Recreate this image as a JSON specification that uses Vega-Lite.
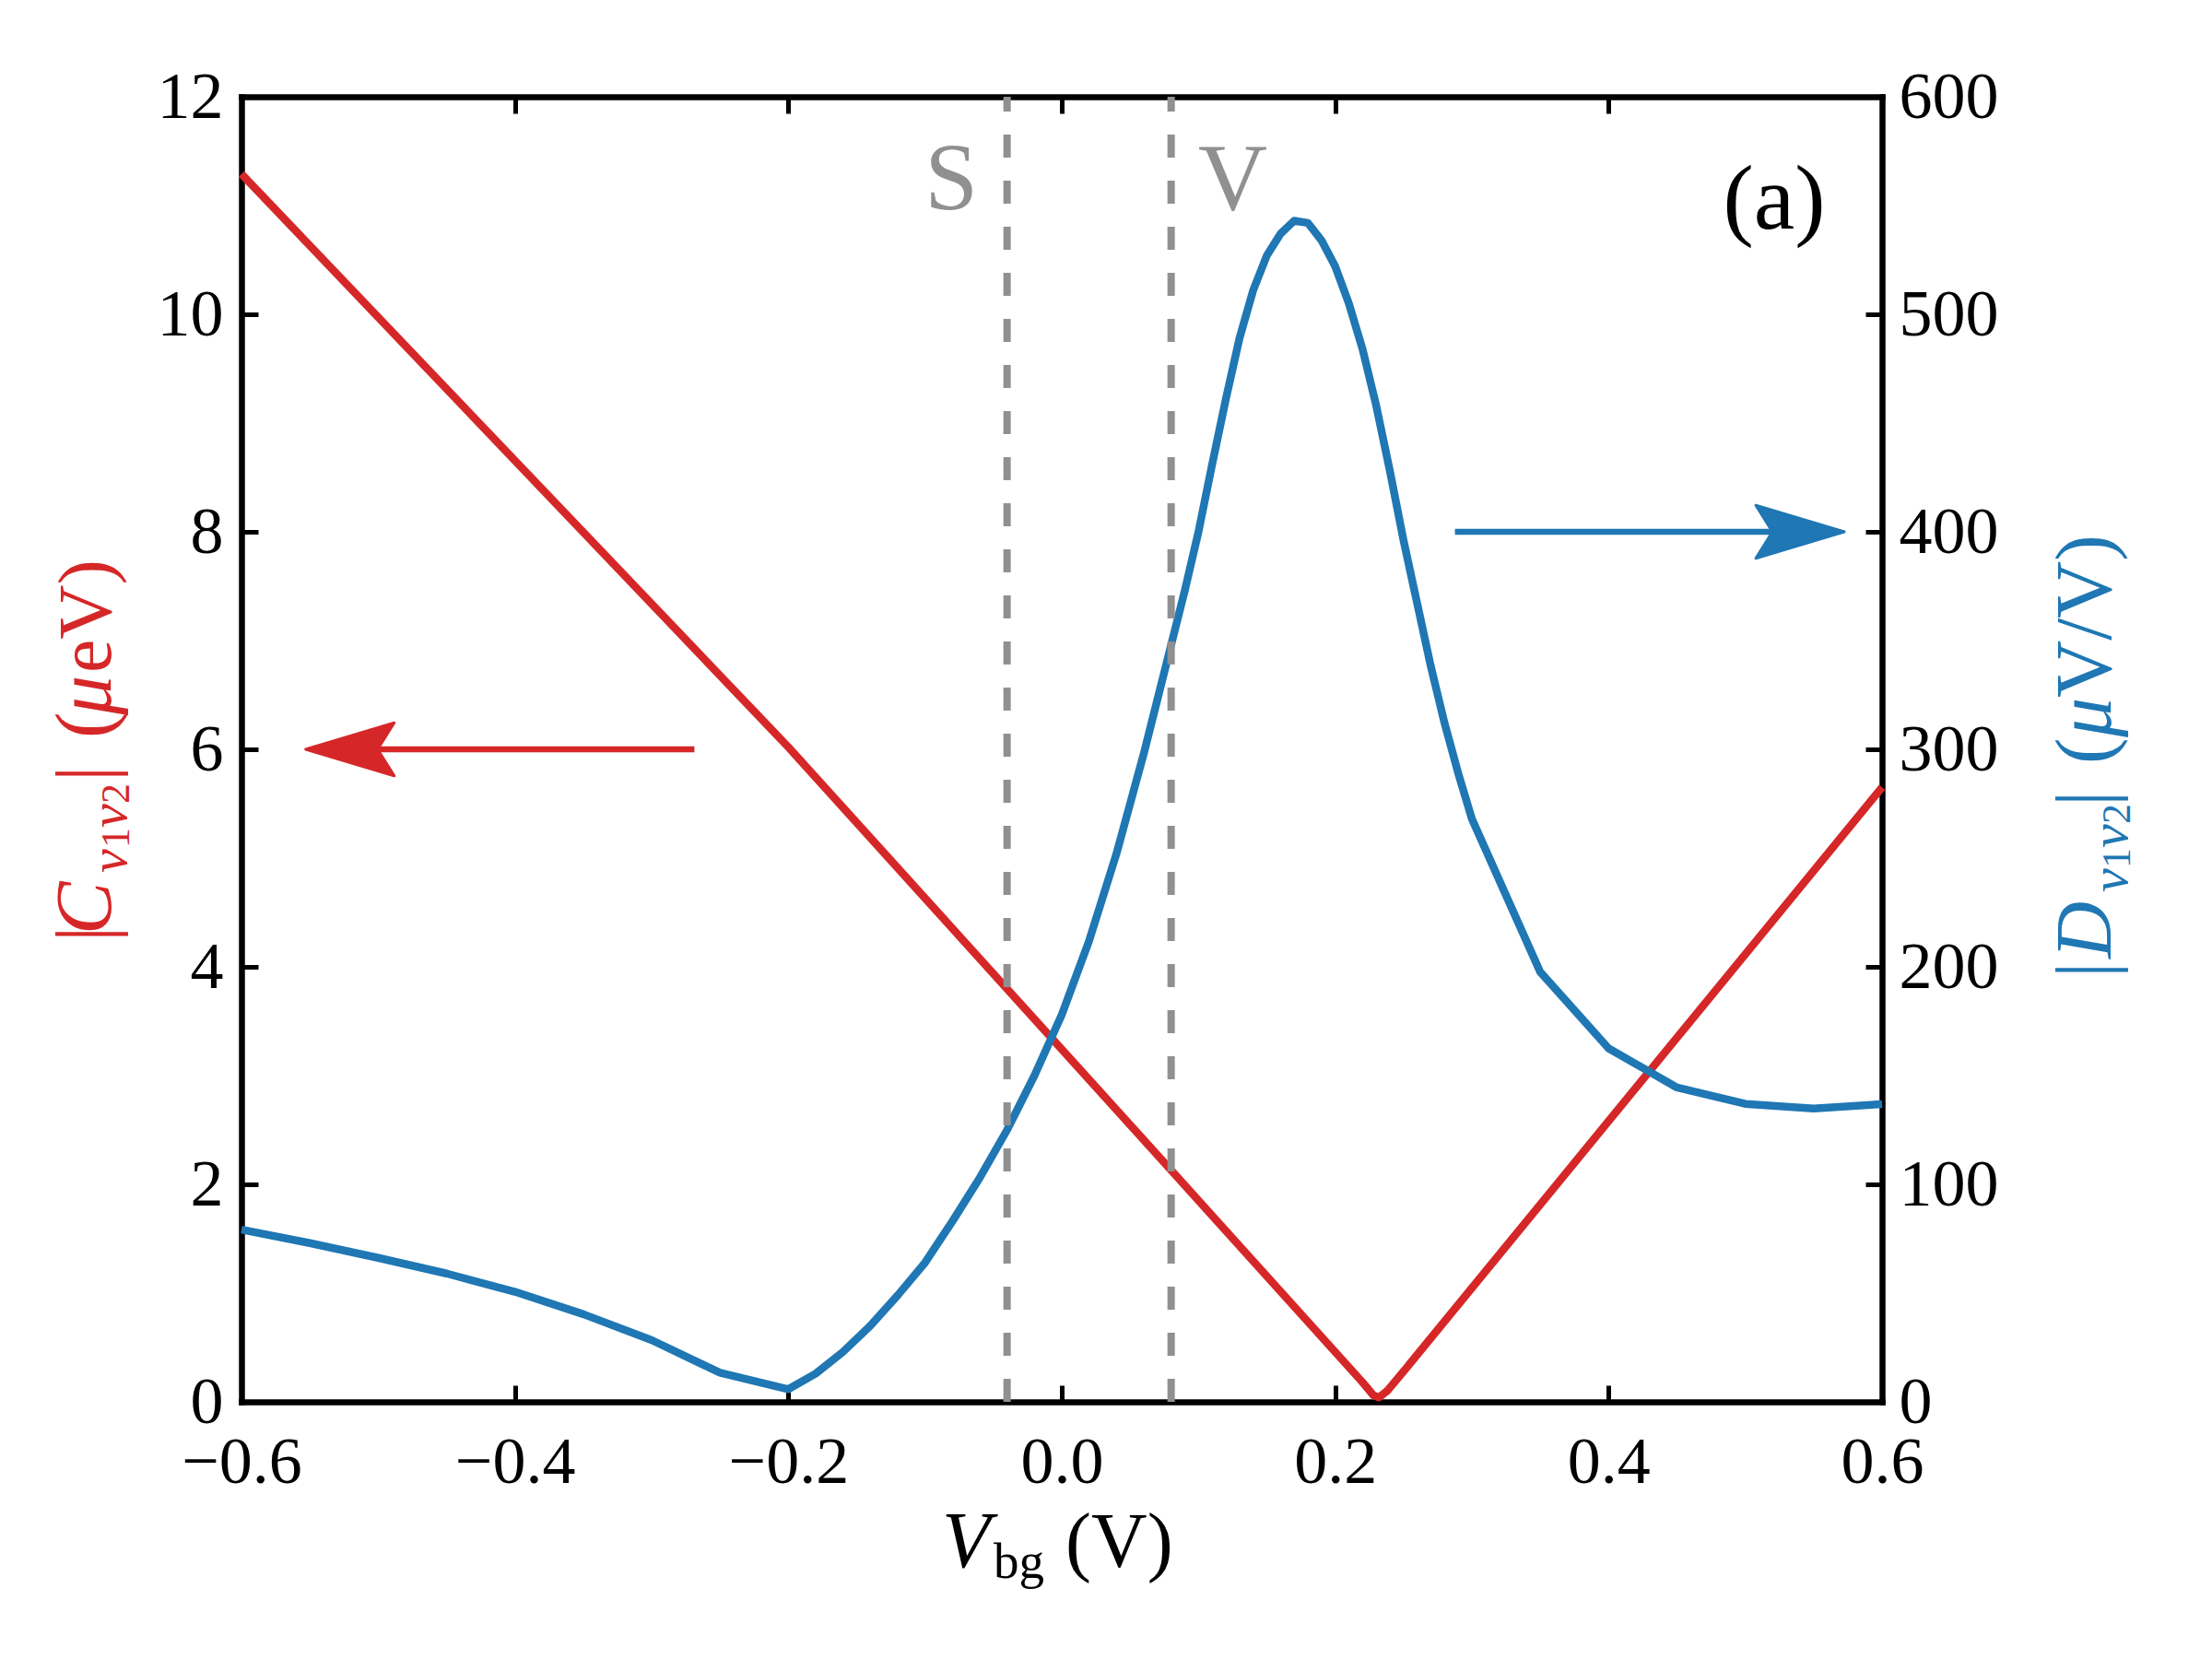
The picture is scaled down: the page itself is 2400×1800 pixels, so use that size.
{
  "$schema": "https://vega.github.io/schema/vega-lite/v6.json",
  "width": 1780,
  "height": 1416,
  "autosize": {"type": "none"},
  "padding": {"left": 262, "top": 105, "right": 358, "bottom": 279},
  "background": "white",
  "config": {
    "view": {"stroke": null},
    "axis": {
      "grid": false,
      "domainColor": "black",
      "domainWidth": 6.5,
      "domainCap": "square",
      "tickColor": "black",
      "tickWidth": 5,
      "tickSize": -18,
      "labelFont": "Liberation Serif",
      "labelFontSize": 72,
      "labelColor": "black",
      "labelFlush": false,
      "labelOverlap": false,
      "labelBound": false
    }
  },
  "datasets": {
    "red": [
      {"v": -0.6, "c": 11.29},
      {"v": -0.2, "c": 6.02},
      {"v": 0.08, "c": 2.13},
      {"v": 0.22, "c": 0.18},
      {"v": 0.228, "c": 0.06},
      {"v": 0.232, "c": 0.04},
      {"v": 0.238, "c": 0.1},
      {"v": 0.25, "c": 0.28},
      {"v": 0.6, "c": 5.65}
    ],
    "blue": [
      {"v": -0.6, "d": 79.2},
      {"v": -0.55, "d": 73.0},
      {"v": -0.5, "d": 66.2},
      {"v": -0.45, "d": 59.0},
      {"v": -0.4, "d": 50.6},
      {"v": -0.35, "d": 40.3},
      {"v": -0.3, "d": 28.4},
      {"v": -0.25, "d": 13.4},
      {"v": -0.2, "d": 5.8},
      {"v": -0.18, "d": 13.0},
      {"v": -0.16, "d": 23.0},
      {"v": -0.14, "d": 35.0},
      {"v": -0.12, "d": 49.0},
      {"v": -0.1, "d": 64.0},
      {"v": -0.08, "d": 83.0},
      {"v": -0.06, "d": 103.0},
      {"v": -0.04, "d": 125.0},
      {"v": -0.02, "d": 150.0},
      {"v": 0.0, "d": 178.0},
      {"v": 0.02, "d": 212.0},
      {"v": 0.04, "d": 252.0},
      {"v": 0.06, "d": 298.0},
      {"v": 0.08, "d": 348.0},
      {"v": 0.09, "d": 373.0},
      {"v": 0.1, "d": 400.0},
      {"v": 0.11, "d": 431.0},
      {"v": 0.12, "d": 461.0},
      {"v": 0.13, "d": 489.0},
      {"v": 0.14, "d": 511.0},
      {"v": 0.15, "d": 527.0},
      {"v": 0.16, "d": 537.0},
      {"v": 0.17, "d": 543.0},
      {"v": 0.18, "d": 542.0},
      {"v": 0.19, "d": 534.0},
      {"v": 0.2, "d": 522.0},
      {"v": 0.21, "d": 505.0},
      {"v": 0.22, "d": 484.0},
      {"v": 0.23, "d": 458.0},
      {"v": 0.24, "d": 428.0},
      {"v": 0.25, "d": 396.0},
      {"v": 0.26, "d": 367.0},
      {"v": 0.27, "d": 338.0},
      {"v": 0.28, "d": 312.0},
      {"v": 0.29, "d": 289.0},
      {"v": 0.3, "d": 268.0},
      {"v": 0.35, "d": 197.6},
      {"v": 0.4, "d": 162.5},
      {"v": 0.45, "d": 144.5},
      {"v": 0.5, "d": 137.0},
      {"v": 0.55, "d": 134.9},
      {"v": 0.6, "d": 136.9}
    ]
  },
  "layer": [
    {
      "data": {"name": "red"},
      "mark": {"type": "line", "color": "#d62728", "strokeWidth": 8.5, "strokeJoin": "round"},
      "encoding": {
        "x": {"field": "v", "type": "quantitative", "scale": {"domain": [-0.6, 0.6], "nice": false, "zero": false},
              "axis": {"orient": "bottom", "values": [-0.6, -0.4, -0.2, 0, 0.2, 0.4, 0.6], "format": ".1f", "labelPadding": 48, "title": null}},
        "y": {"field": "c", "type": "quantitative", "scale": {"domain": [0, 12], "nice": false, "zero": false},
              "axis": {"orient": "left", "values": [0, 2, 4, 6, 8, 10, 12], "format": "d", "labelPadding": 38, "title": null}}
      }
    },
    {
      "data": {"name": "blue"},
      "mark": {"type": "line", "color": "#1f77b4", "strokeWidth": 8.5, "strokeJoin": "round"},
      "encoding": {
        "x": {"field": "v", "type": "quantitative", "scale": {"domain": [-0.6, 0.6], "nice": false, "zero": false},
              "axis": {"orient": "top", "values": [-0.6, -0.4, -0.2, 0, 0.2, 0.4, 0.6], "labels": false, "title": null}},
        "y": {"field": "d", "type": "quantitative", "scale": {"domain": [0, 600], "nice": false, "zero": false},
              "axis": {"orient": "right", "values": [0, 100, 200, 300, 400, 500, 600], "format": "d", "labelPadding": 36, "title": null}}
      }
    },
    {
      "data": {"values": [{"s": -0.04}, {"s": 0.08}]},
      "mark": {"type": "rule", "color": "#909090", "strokeWidth": 8, "strokeDash": [25, 25]},
      "encoding": {
        "x": {"field": "s", "type": "quantitative", "scale": {"domain": [-0.6, 0.6], "nice": false, "zero": false}, "axis": null},
        "y": {"datum": 0, "type": "quantitative", "scale": {"domain": [0, 600], "nice": false, "zero": false}, "axis": null},
        "y2": {"datum": 600}
      }
    },
    {
      "data": {"values": [{}]},
      "mark": {"type": "rule", "color": "#d62728", "strokeWidth": 6.7},
      "encoding": {
        "x": {"datum": -0.2687, "type": "quantitative", "scale": {"domain": [-0.6, 0.6], "nice": false, "zero": false}, "axis": null},
        "x2": {"datum": -0.53},
        "y": {"datum": 6, "type": "quantitative", "scale": {"domain": [0, 12], "nice": false, "zero": false}, "axis": null}
      }
    },
    {
      "data": {"values": [{}]},
      "mark": {"type": "point", "shape": "M0,0L2,-0.6L1.625,0L2,0.6Z", "size": 9216, "filled": true, "color": "#d62728", "stroke": "#d62728", "strokeWidth": 3, "strokeJoin": "round", "opacity": 1},
      "encoding": {
        "x": {"datum": -0.553, "type": "quantitative", "scale": {"domain": [-0.6, 0.6], "nice": false, "zero": false}, "axis": null},
        "y": {"datum": 6, "type": "quantitative", "scale": {"domain": [0, 12], "nice": false, "zero": false}, "axis": null}
      }
    },
    {
      "data": {"values": [{}]},
      "mark": {"type": "rule", "color": "#1f77b4", "strokeWidth": 6.7},
      "encoding": {
        "x": {"datum": 0.2876, "type": "quantitative", "scale": {"domain": [-0.6, 0.6], "nice": false, "zero": false}, "axis": null},
        "x2": {"datum": 0.55},
        "y": {"datum": 400, "type": "quantitative", "scale": {"domain": [0, 600], "nice": false, "zero": false}, "axis": null}
      }
    },
    {
      "data": {"values": [{}]},
      "mark": {"type": "point", "shape": "M0,0L-2,-0.6L-1.625,0L-2,0.6Z", "size": 9216, "filled": true, "color": "#1f77b4", "stroke": "#1f77b4", "strokeWidth": 3, "strokeJoin": "round", "opacity": 1},
      "encoding": {
        "x": {"datum": 0.5724, "type": "quantitative", "scale": {"domain": [-0.6, 0.6], "nice": false, "zero": false}, "axis": null},
        "y": {"datum": 400, "type": "quantitative", "scale": {"domain": [0, 600], "nice": false, "zero": false}, "axis": null}
      }
    },
    {
      "data": {"values": [{}]},
      "mark": {"type": "text", "text": "S", "font": "Liberation Serif", "fontSize": 104, "color": "#909090", "align": "right", "baseline": "alphabetic"},
      "encoding": {
        "x": {"datum": -0.0613, "type": "quantitative", "scale": {"domain": [-0.6, 0.6], "nice": false, "zero": false}, "axis": null},
        "y": {"datum": 10.966, "type": "quantitative", "scale": {"domain": [0, 12], "nice": false, "zero": false}, "axis": null}
      }
    },
    {
      "data": {"values": [{}]},
      "mark": {"type": "text", "text": "V", "font": "Liberation Serif", "fontSize": 104, "color": "#909090", "align": "left", "baseline": "alphabetic"},
      "encoding": {
        "x": {"datum": 0.0998, "type": "quantitative", "scale": {"domain": [-0.6, 0.6], "nice": false, "zero": false}, "axis": null},
        "y": {"datum": 10.966, "type": "quantitative", "scale": {"domain": [0, 12], "nice": false, "zero": false}, "axis": null}
      }
    },
    {
      "data": {"values": [{}]},
      "mark": {"type": "text", "text": "(a)", "font": "Liberation Serif", "fontSize": 100, "color": "black", "align": "center", "baseline": "alphabetic"},
      "encoding": {
        "x": {"datum": 0.5211, "type": "quantitative", "scale": {"domain": [-0.6, 0.6], "nice": false, "zero": false}, "axis": null},
        "y": {"datum": 10.788, "type": "quantitative", "scale": {"domain": [0, 12], "nice": false, "zero": false}, "axis": null}
      }
    },
    {
      "data": {"values": [{}]},
      "mark": {"type": "text", "text": "V", "font": "Liberation Serif", "fontStyle": "italic", "fontSize": 86, "color": "black", "align": "left", "baseline": "alphabetic"},
      "encoding": {
        "x": {"datum": -0.0876, "type": "quantitative", "scale": {"domain": [-0.6, 0.6], "nice": false, "zero": false}, "axis": null},
        "y": {"datum": -1.517, "type": "quantitative", "scale": {"domain": [0, 12], "nice": false, "zero": false}, "axis": null}
      }
    },
    {
      "data": {"values": [{}]},
      "mark": {"type": "text", "text": "bg", "font": "Liberation Serif", "fontSize": 55, "color": "black", "align": "left", "baseline": "alphabetic"},
      "encoding": {
        "x": {"datum": -0.0499, "type": "quantitative", "scale": {"domain": [-0.6, 0.6], "nice": false, "zero": false}, "axis": null},
        "y": {"datum": -1.619, "type": "quantitative", "scale": {"domain": [0, 12], "nice": false, "zero": false}, "axis": null}
      }
    },
    {
      "data": {"values": [{}]},
      "mark": {"type": "text", "text": "(V)", "font": "Liberation Serif", "fontSize": 84, "color": "black", "align": "left", "baseline": "alphabetic"},
      "encoding": {
        "x": {"datum": 0.0027, "type": "quantitative", "scale": {"domain": [-0.6, 0.6], "nice": false, "zero": false}, "axis": null},
        "y": {"datum": -1.517, "type": "quantitative", "scale": {"domain": [0, 12], "nice": false, "zero": false}, "axis": null}
      }
    },
    {
      "data": {"values": [{}]},
      "mark": {"type": "text", "text": "|", "font": "Liberation Serif", "fontSize": 86, "color": "#d62728", "align": "left", "baseline": "alphabetic", "angle": 270},
      "encoding": {
        "x": {"datum": -0.6957, "type": "quantitative", "scale": {"domain": [-0.6, 0.6], "nice": false, "zero": false}, "axis": null},
        "y": {"datum": 4.229, "type": "quantitative", "scale": {"domain": [0, 12], "nice": false, "zero": false}, "axis": null}
      }
    },
    {
      "data": {"values": [{}]},
      "mark": {"type": "text", "text": "C", "font": "Liberation Serif", "fontStyle": "italic", "fontSize": 86, "color": "#d62728", "align": "left", "baseline": "alphabetic", "angle": 270},
      "encoding": {
        "x": {"datum": -0.6957, "type": "quantitative", "scale": {"domain": [-0.6, 0.6], "nice": false, "zero": false}, "axis": null},
        "y": {"datum": 4.297, "type": "quantitative", "scale": {"domain": [0, 12], "nice": false, "zero": false}, "axis": null}
      }
    },
    {
      "data": {"values": [{}]},
      "mark": {"type": "text", "text": "v", "font": "Liberation Serif", "fontStyle": "italic", "fontSize": 58, "color": "#d62728", "align": "left", "baseline": "alphabetic", "angle": 270},
      "encoding": {
        "x": {"datum": -0.6843, "type": "quantitative", "scale": {"domain": [-0.6, 0.6], "nice": false, "zero": false}, "axis": null},
        "y": {"datum": 4.864, "type": "quantitative", "scale": {"domain": [0, 12], "nice": false, "zero": false}, "axis": null}
      }
    },
    {
      "data": {"values": [{}]},
      "mark": {"type": "text", "text": "1", "font": "Liberation Serif", "fontSize": 44, "color": "#d62728", "align": "left", "baseline": "alphabetic", "angle": 270},
      "encoding": {
        "x": {"datum": -0.6822, "type": "quantitative", "scale": {"domain": [-0.6, 0.6], "nice": false, "zero": false}, "axis": null},
        "y": {"datum": 5.093, "type": "quantitative", "scale": {"domain": [0, 12], "nice": false, "zero": false}, "axis": null}
      }
    },
    {
      "data": {"values": [{}]},
      "mark": {"type": "text", "text": "v", "font": "Liberation Serif", "fontStyle": "italic", "fontSize": 58, "color": "#d62728", "align": "left", "baseline": "alphabetic", "angle": 270},
      "encoding": {
        "x": {"datum": -0.6843, "type": "quantitative", "scale": {"domain": [-0.6, 0.6], "nice": false, "zero": false}, "axis": null},
        "y": {"datum": 5.28, "type": "quantitative", "scale": {"domain": [0, 12], "nice": false, "zero": false}, "axis": null}
      }
    },
    {
      "data": {"values": [{}]},
      "mark": {"type": "text", "text": "2", "font": "Liberation Serif", "fontSize": 44, "color": "#d62728", "align": "left", "baseline": "alphabetic", "angle": 270},
      "encoding": {
        "x": {"datum": -0.6822, "type": "quantitative", "scale": {"domain": [-0.6, 0.6], "nice": false, "zero": false}, "axis": null},
        "y": {"datum": 5.5, "type": "quantitative", "scale": {"domain": [0, 12], "nice": false, "zero": false}, "axis": null}
      }
    },
    {
      "data": {"values": [{}]},
      "mark": {"type": "text", "text": "|", "font": "Liberation Serif", "fontSize": 86, "color": "#d62728", "align": "left", "baseline": "alphabetic", "angle": 270},
      "encoding": {
        "x": {"datum": -0.6957, "type": "quantitative", "scale": {"domain": [-0.6, 0.6], "nice": false, "zero": false}, "axis": null},
        "y": {"datum": 5.703, "type": "quantitative", "scale": {"domain": [0, 12], "nice": false, "zero": false}, "axis": null}
      }
    },
    {
      "data": {"values": [{}]},
      "mark": {"type": "text", "text": "(", "font": "Liberation Serif", "fontSize": 86, "color": "#d62728", "align": "left", "baseline": "alphabetic", "angle": 270},
      "encoding": {
        "x": {"datum": -0.6957, "type": "quantitative", "scale": {"domain": [-0.6, 0.6], "nice": false, "zero": false}, "axis": null},
        "y": {"datum": 6.102, "type": "quantitative", "scale": {"domain": [0, 12], "nice": false, "zero": false}, "axis": null}
      }
    },
    {
      "data": {"values": [{}]},
      "mark": {"type": "text", "text": "μ", "font": "Liberation Serif", "fontStyle": "italic", "fontSize": 86, "color": "#d62728", "align": "left", "baseline": "alphabetic", "angle": 270},
      "encoding": {
        "x": {"datum": -0.6957, "type": "quantitative", "scale": {"domain": [-0.6, 0.6], "nice": false, "zero": false}, "axis": null},
        "y": {"datum": 6.314, "type": "quantitative", "scale": {"domain": [0, 12], "nice": false, "zero": false}, "axis": null}
      }
    },
    {
      "data": {"values": [{}]},
      "mark": {"type": "text", "text": "eV)", "font": "Liberation Serif", "fontSize": 82, "color": "#d62728", "align": "left", "baseline": "alphabetic", "angle": 270},
      "encoding": {
        "x": {"datum": -0.6957, "type": "quantitative", "scale": {"domain": [-0.6, 0.6], "nice": false, "zero": false}, "axis": null},
        "y": {"datum": 6.703, "type": "quantitative", "scale": {"domain": [0, 12], "nice": false, "zero": false}, "axis": null}
      }
    },
    {
      "data": {"values": [{}]},
      "mark": {"type": "text", "text": "|", "font": "Liberation Serif", "fontSize": 86, "color": "#1f77b4", "align": "left", "baseline": "alphabetic", "angle": 270},
      "encoding": {
        "x": {"datum": 0.7672, "type": "quantitative", "scale": {"domain": [-0.6, 0.6], "nice": false, "zero": false}, "axis": null},
        "y": {"datum": 3.898, "type": "quantitative", "scale": {"domain": [0, 12], "nice": false, "zero": false}, "axis": null}
      }
    },
    {
      "data": {"values": [{}]},
      "mark": {"type": "text", "text": "D", "font": "Liberation Serif", "fontStyle": "italic", "fontSize": 86, "color": "#1f77b4", "align": "left", "baseline": "alphabetic", "angle": 270},
      "encoding": {
        "x": {"datum": 0.7672, "type": "quantitative", "scale": {"domain": [-0.6, 0.6], "nice": false, "zero": false}, "axis": null},
        "y": {"datum": 4.076, "type": "quantitative", "scale": {"domain": [0, 12], "nice": false, "zero": false}, "axis": null}
      }
    },
    {
      "data": {"values": [{}]},
      "mark": {"type": "text", "text": "v", "font": "Liberation Serif", "fontStyle": "italic", "fontSize": 58, "color": "#1f77b4", "align": "left", "baseline": "alphabetic", "angle": 270},
      "encoding": {
        "x": {"datum": 0.7793, "type": "quantitative", "scale": {"domain": [-0.6, 0.6], "nice": false, "zero": false}, "axis": null},
        "y": {"datum": 4.686, "type": "quantitative", "scale": {"domain": [0, 12], "nice": false, "zero": false}, "axis": null}
      }
    },
    {
      "data": {"values": [{}]},
      "mark": {"type": "text", "text": "1", "font": "Liberation Serif", "fontSize": 44, "color": "#1f77b4", "align": "left", "baseline": "alphabetic", "angle": 270},
      "encoding": {
        "x": {"datum": 0.7813, "type": "quantitative", "scale": {"domain": [-0.6, 0.6], "nice": false, "zero": false}, "axis": null},
        "y": {"datum": 4.907, "type": "quantitative", "scale": {"domain": [0, 12], "nice": false, "zero": false}, "axis": null}
      }
    },
    {
      "data": {"values": [{}]},
      "mark": {"type": "text", "text": "v", "font": "Liberation Serif", "fontStyle": "italic", "fontSize": 58, "color": "#1f77b4", "align": "left", "baseline": "alphabetic", "angle": 270},
      "encoding": {
        "x": {"datum": 0.7793, "type": "quantitative", "scale": {"domain": [-0.6, 0.6], "nice": false, "zero": false}, "axis": null},
        "y": {"datum": 5.093, "type": "quantitative", "scale": {"domain": [0, 12], "nice": false, "zero": false}, "axis": null}
      }
    },
    {
      "data": {"values": [{}]},
      "mark": {"type": "text", "text": "2", "font": "Liberation Serif", "fontSize": 44, "color": "#1f77b4", "align": "left", "baseline": "alphabetic", "angle": 270},
      "encoding": {
        "x": {"datum": 0.7813, "type": "quantitative", "scale": {"domain": [-0.6, 0.6], "nice": false, "zero": false}, "axis": null},
        "y": {"datum": 5.314, "type": "quantitative", "scale": {"domain": [0, 12], "nice": false, "zero": false}, "axis": null}
      }
    },
    {
      "data": {"values": [{}]},
      "mark": {"type": "text", "text": "|", "font": "Liberation Serif", "fontSize": 86, "color": "#1f77b4", "align": "left", "baseline": "alphabetic", "angle": 270},
      "encoding": {
        "x": {"datum": 0.7672, "type": "quantitative", "scale": {"domain": [-0.6, 0.6], "nice": false, "zero": false}, "axis": null},
        "y": {"datum": 5.475, "type": "quantitative", "scale": {"domain": [0, 12], "nice": false, "zero": false}, "axis": null}
      }
    },
    {
      "data": {"values": [{}]},
      "mark": {"type": "text", "text": "(", "font": "Liberation Serif", "fontSize": 86, "color": "#1f77b4", "align": "left", "baseline": "alphabetic", "angle": 270},
      "encoding": {
        "x": {"datum": 0.7672, "type": "quantitative", "scale": {"domain": [-0.6, 0.6], "nice": false, "zero": false}, "axis": null},
        "y": {"datum": 5.864, "type": "quantitative", "scale": {"domain": [0, 12], "nice": false, "zero": false}, "axis": null}
      }
    },
    {
      "data": {"values": [{}]},
      "mark": {"type": "text", "text": "μ", "font": "Liberation Serif", "fontStyle": "italic", "fontSize": 86, "color": "#1f77b4", "align": "left", "baseline": "alphabetic", "angle": 270},
      "encoding": {
        "x": {"datum": 0.7672, "type": "quantitative", "scale": {"domain": [-0.6, 0.6], "nice": false, "zero": false}, "axis": null},
        "y": {"datum": 6.11, "type": "quantitative", "scale": {"domain": [0, 12], "nice": false, "zero": false}, "axis": null}
      }
    },
    {
      "data": {"values": [{}]},
      "mark": {"type": "text", "text": "V/V)", "font": "Liberation Serif", "fontSize": 86, "color": "#1f77b4", "align": "left", "baseline": "alphabetic", "angle": 270},
      "encoding": {
        "x": {"datum": 0.7672, "type": "quantitative", "scale": {"domain": [-0.6, 0.6], "nice": false, "zero": false}, "axis": null},
        "y": {"datum": 6.475, "type": "quantitative", "scale": {"domain": [0, 12], "nice": false, "zero": false}, "axis": null}
      }
    }
  ],
  "resolve": {"scale": {"x": "independent", "y": "independent"}}
}
